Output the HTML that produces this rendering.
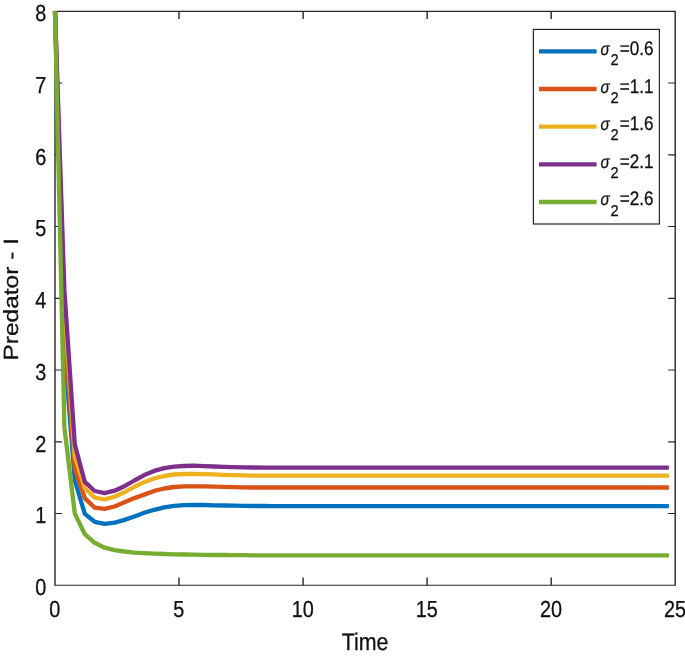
<!DOCTYPE html>
<html lang="en">
<head>
<meta charset="utf-8">
<title>Predator - I vs Time</title>
<style>
html,body{margin:0;padding:0;background:#fff;}
body{width:685px;height:658px;overflow:hidden;}
svg{display:block;}
text{font-family:"Liberation Sans",Arial,Helvetica,sans-serif;fill:#111;stroke:#111;stroke-width:0.3px;text-rendering:geometricPrecision;}
.tk{font-size:23.2px;}
.lb{font-size:24.1px;}
.lg{font-size:19.6px;}
.sg{font-size:18.2px;font-style:italic;}
.sb{font-size:15.6px;}
</style>
</head>
<body>
<svg width="685" height="658" viewBox="0 0 685 658">
<rect x="0" y="0" width="685" height="658" fill="#ffffff"/>
<path d="M54.4 11.3H675.8 M54.4 585.2H675.8 M55.0 513.5H62.0 M675.2 513.5H668.2 M55.0 441.8H62.0 M675.2 441.8H668.2 M55.0 370.0H62.0 M675.2 370.0H668.2 M55.0 298.3H62.0 M675.2 298.3H668.2 M55.0 226.5H62.0 M675.2 226.5H668.2 M55.0 154.8H62.0 M675.2 154.8H668.2 M55.0 83.0H62.0 M675.2 83.0H668.2" stroke="#262626" stroke-width="1.15" fill="none"/>
<path d="M55.0 11.3V585.2 M675.2 11.3V585.2 M179.0 585.2V577.5 M179.0 11.3V19.1 M303.1 585.2V577.5 M303.1 11.3V19.1 M427.1 585.2V577.5 M427.1 11.3V19.1 M551.2 585.2V577.5 M551.2 11.3V19.1" stroke="#262626" stroke-width="1.4" fill="none"/>
<g fill="none" stroke-width="4.3" stroke-linejoin="round" stroke-linecap="butt">
<path d="M55.0 11.3 L64.4 348.5 L74.8 480.5 L84.8 513.9 L94.7 521.8 L104.6 523.9 L114.5 522.7 L124.5 519.9 L134.4 516.5 L144.3 512.8 L154.2 509.8 L164.2 507.3 L174.1 505.9 L184.0 505.2 L193.9 504.9 L203.8 505.0 L213.8 505.3 L223.7 505.5 L233.6 505.7 L243.5 505.8 L253.5 506.0 L263.4 506.0 L273.3 506.1 L668.9 506.1" stroke="#0072BD"/>
<path d="M55.0 11.3 L64.4 327.0 L74.8 469.0 L84.8 498.1 L94.7 507.7 L104.6 508.9 L114.5 506.5 L124.5 502.2 L134.4 498.1 L144.3 494.6 L154.2 490.9 L164.2 488.5 L174.1 487.0 L184.0 486.4 L193.9 486.3 L203.8 486.4 L213.8 486.6 L223.7 486.9 L233.6 487.1 L243.5 487.3 L253.5 487.5 L263.4 487.5 L273.3 487.5 L668.9 487.5" stroke="#D95319"/>
<path d="M55.0 11.3 L64.4 306.9 L74.8 456.1 L84.8 488.3 L94.7 497.6 L104.6 499.4 L114.5 496.7 L124.5 492.2 L134.4 486.8 L144.3 482.1 L154.2 478.4 L164.2 476.0 L174.1 474.5 L184.0 474.0 L193.9 473.9 L203.8 474.1 L213.8 474.4 L223.7 474.8 L233.6 475.1 L243.5 475.4 L253.5 475.6 L263.4 475.6 L273.3 475.7 L668.9 475.7" stroke="#EDB120"/>
<path d="M55.0 11.3 L64.4 290.4 L74.8 444.6 L84.8 481.9 L94.7 491.0 L104.6 493.1 L114.5 490.7 L124.5 486.2 L134.4 480.5 L144.3 475.1 L154.2 470.9 L164.2 468.2 L174.1 466.6 L184.0 466.0 L193.9 465.7 L203.8 466.1 L213.8 466.5 L223.7 466.9 L233.6 467.2 L243.5 467.4 L253.5 467.5 L263.4 467.6 L273.3 467.6 L668.9 467.6" stroke="#7E2F8E"/>
<path d="M55.0 11.3 L64.4 427.4 L74.8 513.5 L84.8 534.2 L94.7 542.8 L104.6 547.7 L114.5 550.1 L124.5 551.5 L134.4 552.6 L144.3 553.2 L154.2 553.6 L164.2 554.0 L174.1 554.3 L184.0 554.5 L193.9 554.7 L203.8 554.8 L213.8 555.0 L223.7 555.0 L233.6 555.1 L243.5 555.2 L253.5 555.3 L263.4 555.3 L273.3 555.3 L668.9 555.3" stroke="#77AC30"/>
</g>
<text class="tk" text-anchor="middle" transform="translate(54.7 617.0) scale(0.855 1)">0</text>
<text class="tk" text-anchor="middle" transform="translate(178.7 617.0) scale(0.855 1)">5</text>
<text class="tk" text-anchor="middle" transform="translate(302.8 617.0) scale(0.855 1)">10</text>
<text class="tk" text-anchor="middle" transform="translate(426.8 617.0) scale(0.855 1)">15</text>
<text class="tk" text-anchor="middle" transform="translate(550.9 617.0) scale(0.855 1)">20</text>
<text class="tk" text-anchor="middle" transform="translate(674.9 617.0) scale(0.855 1)">25</text>
<text class="tk" text-anchor="end" transform="translate(46.4 595.1) scale(0.855 1)">0</text>
<text class="tk" text-anchor="end" transform="translate(46.4 523.4) scale(0.855 1)">1</text>
<text class="tk" text-anchor="end" transform="translate(46.4 451.7) scale(0.855 1)">2</text>
<text class="tk" text-anchor="end" transform="translate(46.4 379.9) scale(0.855 1)">3</text>
<text class="tk" text-anchor="end" transform="translate(46.4 308.2) scale(0.855 1)">4</text>
<text class="tk" text-anchor="end" transform="translate(46.4 236.4) scale(0.855 1)">5</text>
<text class="tk" text-anchor="end" transform="translate(46.4 164.7) scale(0.855 1)">6</text>
<text class="tk" text-anchor="end" transform="translate(46.4 92.9) scale(0.855 1)">7</text>
<text class="tk" text-anchor="end" transform="translate(46.4 21.2) scale(0.855 1)">8</text>
<text class="lb" text-anchor="middle" transform="translate(365 649.8) scale(0.887 1)">Time</text>
<text class="lb" text-anchor="middle" transform="translate(18.4 299.3) rotate(-90) scale(1.017 0.855)">Predator - I</text>
<rect x="533.4" y="29.4" width="126" height="194.6" fill="#fff" stroke="#262626" stroke-width="1.2"/>
<path d="M539 51.4H596.6" stroke="#0072BD" stroke-width="4.3" fill="none"/>
<text class="sg" transform="translate(600.4 54.8) scale(0.829 1)">σ</text>
<text class="sb" transform="translate(610.5 65.0) scale(0.941 1)">2</text>
<text class="lg" transform="translate(619.8 54.8) scale(0.872 1)">=0.6</text>
<path d="M539 89.0H596.6" stroke="#D95319" stroke-width="4.3" fill="none"/>
<text class="sg" transform="translate(600.4 92.5) scale(0.829 1)">σ</text>
<text class="sb" transform="translate(610.5 102.6) scale(0.941 1)">2</text>
<text class="lg" transform="translate(619.8 92.5) scale(0.872 1)">=1.1</text>
<path d="M539 126.7H596.6" stroke="#EDB120" stroke-width="4.3" fill="none"/>
<text class="sg" transform="translate(600.4 130.1) scale(0.829 1)">σ</text>
<text class="sb" transform="translate(610.5 140.3) scale(0.941 1)">2</text>
<text class="lg" transform="translate(619.8 130.1) scale(0.872 1)">=1.6</text>
<path d="M539 164.3H596.6" stroke="#7E2F8E" stroke-width="4.3" fill="none"/>
<text class="sg" transform="translate(600.4 167.8) scale(0.829 1)">σ</text>
<text class="sb" transform="translate(610.5 177.9) scale(0.941 1)">2</text>
<text class="lg" transform="translate(619.8 167.8) scale(0.872 1)">=2.1</text>
<path d="M539 202.0H596.6" stroke="#77AC30" stroke-width="4.3" fill="none"/>
<text class="sg" transform="translate(600.4 205.4) scale(0.829 1)">σ</text>
<text class="sb" transform="translate(610.5 215.6) scale(0.941 1)">2</text>
<text class="lg" transform="translate(619.8 205.4) scale(0.872 1)">=2.6</text>
</svg>
</body>
</html>
